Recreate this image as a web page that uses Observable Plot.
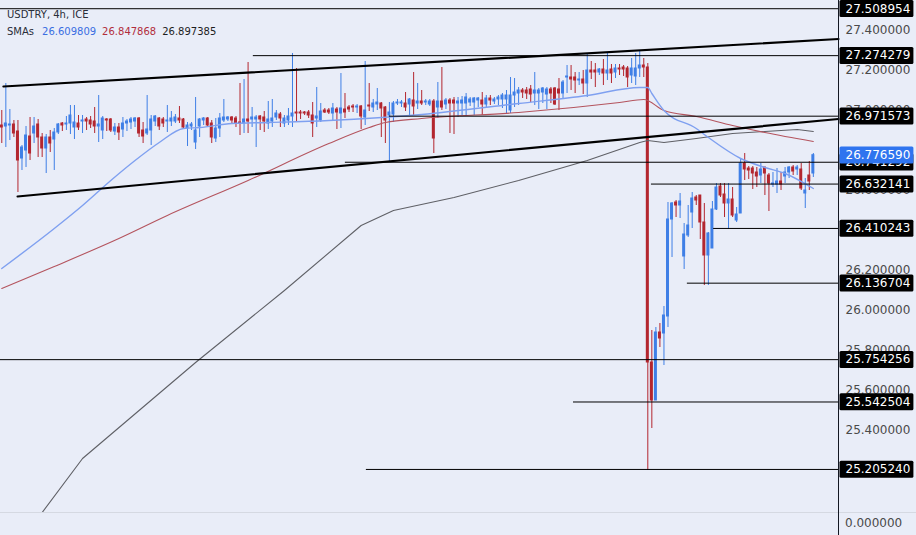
<!DOCTYPE html>
<html><head><meta charset="utf-8">
<script src="https://cdn.jsdelivr.net/npm/d3@7"></script>
<script src="https://cdn.jsdelivr.net/npm/@observablehq/plot@0.6"></script>
<style>
html,body{margin:0;padding:0;background:#e9edf8;}
#wrap{position:relative;width:916px;height:535px;background:#e9edf8;overflow:hidden;font-family:"DejaVu Sans",sans-serif;}
#chart svg{display:block;}
#hdr{position:absolute;left:7px;top:6px;font-size:10px;color:#2a2e39;line-height:17px;white-space:nowrap;}
#hdr span{margin-left:6px;}
#hdr span.first{margin-left:8px;}
#zero{position:absolute;left:845px;top:516px;font-size:12px;color:#4a4a4a;}
#sep{position:absolute;left:0;top:512px;width:916px;height:1px;background:#d5d9e2;}
#axl{position:absolute;left:838px;top:512px;width:1px;height:23px;background:#131722;}
</style></head><body>
<div id="wrap">
<div id="chart"></div>
<div id="sep"></div><div id="axl"></div>
<div id="zero">0.000000</div>
<div id="hdr"><div>USDTRY, 4h, ICE</div><div>SMAs<span class="first" style="color:#3a6ee2">26.609809</span><span style="color:#b22d3c">26.847868</span><span style="color:#1e1e1e">26.897385</span></div></div>
</div>
<script>
// ---- candle data (index 0..201) ----
const opens = [26.925,26.92,26.925,26.93,26.895,26.76,26.80,26.87,26.885,26.93,26.865,26.81,26.865,26.855,26.89,26.935,26.93,26.935,26.915,26.935,26.945,26.955,26.95,26.945,26.92,26.90,26.955,26.955,26.895,26.915,26.905,26.935,26.94,26.945,26.96,26.90,26.885,26.90,26.945,26.96,26.955,26.945,26.945,26.945,26.96,26.955,26.91,26.92,26.84,26.92,26.95,26.96,26.935,26.86,26.91,26.95,26.955,26.965,26.96,26.94,26.935,26.955,26.955,26.955,26.97,26.965,26.935,26.945,26.965,26.98,26.935,26.95,26.97,26.99,26.99,26.99,26.99,26.975,26.96,
26.95,27.00,27.00,26.985,27.005,26.985,27.005,27.015,27.02,27.015,27.02,26.965,27.025,27.015,27.03,27.035,27.015,26.975,26.98,27.035,27.035,27.035,27.03,27.05,27.035,27.045,27.04,27.03,27.045,27.015,27.045,27.03,27.05,27.05,27.035,27.035,27.035,27.04,27.04,27.05,27.05,27.03,27.06,27.045,27.055,27.055,27.055,27.00,27.075,27.085,27.10,27.10,27.105,27.085,27.085,27.09,27.08,27.105,27.11,27.105,27.085,27.165,27.165,27.165,27.15,27.155,27.135,27.20,27.20,27.19,27.205,27.185,27.205,27.19,27.21,27.215,27.21,27.175,27.17,27.21,27.225,
27.215,
25.74,25.55,25.89,25.885,25.97,26.455,26.54,26.525,26.27,26.375,26.49,26.565,26.575,26.44,26.275,26.31,26.505,26.62,26.58,26.535,26.555,26.45,26.485,26.735,26.71,26.71,26.69,26.675,26.715,26.675,26.63,26.63,26.645,26.67,26.69,26.715,26.705,26.705,26.585,26.675,26.685];
const highs = [27.00,27.135,27.005,26.95,26.95,26.825,26.92,26.965,26.965,26.955,26.885,26.88,26.90,26.91,26.935,26.94,26.97,27.025,27.025,26.975,26.975,26.965,26.97,27.015,27.075,26.97,26.96,26.96,26.935,26.935,26.965,26.955,26.965,26.965,26.965,26.94,27.075,26.975,26.975,26.965,26.965,27.025,26.995,26.98,27.02,26.96,26.94,26.94,27.065,26.96,26.965,26.965,26.95,26.96,26.985,27.055,26.97,26.97,26.97,27.135,27.155,27.24,27.015,26.975,26.975,26.995,27.045,27.055,27.00,26.99,26.975,27.01,27.285,27.21,27.00,26.995,27.00,27.04,27.115,
27.035,27.01,27.01,27.035,27.015,27.185,27.085,27.025,27.03,27.03,27.025,27.245,27.135,27.055,27.11,27.04,27.02,27.04,27.045,27.055,27.05,27.09,27.06,27.19,27.135,27.10,27.055,27.055,27.055,27.14,27.215,27.06,27.06,27.065,27.065,27.07,27.085,27.065,27.065,27.065,27.09,27.075,27.075,27.065,27.075,27.085,27.10,27.165,27.16,27.115,27.11,27.115,27.125,27.19,27.11,27.115,27.115,27.115,27.115,27.16,27.15,27.225,27.225,27.19,27.19,27.20,27.285,27.245,27.235,27.21,27.255,27.285,27.23,27.23,27.23,27.225,27.22,27.26,27.285,27.30,27.26,
27.235,
25.90,25.915,25.935,26.02,26.54,26.54,26.55,26.585,26.435,26.525,26.59,26.575,26.575,26.535,26.39,26.545,26.635,26.635,26.635,26.635,26.615,26.515,26.76,26.785,26.72,26.72,26.715,26.735,26.715,26.685,26.69,26.71,26.69,26.715,26.72,26.725,26.725,26.735,26.66,26.745,26.785];
const lows = [26.835,26.815,26.85,26.865,26.59,26.70,26.715,26.75,26.835,26.765,26.765,26.685,26.79,26.70,26.88,26.895,26.90,26.88,26.855,26.90,26.885,26.90,26.91,26.885,26.84,26.855,26.895,26.89,26.875,26.85,26.865,26.895,26.905,26.915,26.865,26.835,26.875,26.825,26.92,26.90,26.915,26.89,26.92,26.935,26.935,26.91,26.82,26.90,26.805,26.865,26.925,26.92,26.835,26.84,26.865,26.94,26.945,26.935,26.915,26.875,26.885,26.885,26.915,26.815,26.90,26.89,26.905,26.915,26.95,26.915,26.915,26.925,26.915,26.94,26.955,26.975,26.96,26.865,26.915,
26.94,26.985,26.98,26.95,26.905,26.91,26.96,26.99,26.99,26.985,26.905,26.925,26.995,26.99,27.00,26.865,26.835,26.74,26.94,27.025,27.015,26.995,26.975,26.975,27.005,27.025,27.025,27.02,26.785,26.96,27.00,27.005,26.885,26.88,26.965,26.975,26.975,27.02,26.975,27.015,26.975,27.015,27.025,27.03,27.025,27.01,26.98,26.985,27.015,27.025,27.06,27.055,27.04,27.025,27.005,27.035,27.005,27.035,27.025,27.00,27.06,27.085,27.10,27.085,27.125,27.08,27.065,27.155,27.115,27.175,27.125,27.15,27.135,27.16,27.175,27.17,27.115,27.135,27.125,27.165,27.165,
25.20,
25.41,25.55,25.815,25.725,25.915,26.265,26.465,26.46,26.205,26.365,26.41,26.525,26.355,26.125,26.125,26.31,26.50,26.565,26.465,26.405,26.465,26.44,26.485,26.65,26.655,26.605,26.615,26.635,26.575,26.495,26.615,26.585,26.60,26.635,26.66,26.675,26.675,26.60,26.51,26.60,26.665];
const closes = [26.915,26.935,26.93,26.885,26.75,26.815,26.875,26.785,26.92,26.865,26.81,26.865,26.835,26.89,26.93,26.925,26.935,26.975,26.94,26.915,26.95,26.945,26.93,26.92,26.93,26.96,26.95,26.90,26.915,26.89,26.935,26.945,26.955,26.96,26.885,26.87,26.905,26.955,26.97,26.92,26.935,26.95,26.96,26.965,26.95,26.915,26.925,26.93,26.90,26.955,26.96,26.925,26.865,26.91,26.96,26.965,26.965,26.95,26.935,26.935,26.955,26.945,26.965,26.965,26.955,26.945,26.955,26.96,26.985,26.96,26.96,26.97,26.985,26.985,26.985,26.985,26.975,26.935,26.97,
26.995,26.99,26.99,27.01,26.99,27.01,26.99,27.005,27.015,27.02,26.97,27.00,27.02,27.035,27.04,27.01,26.95,26.99,27.035,27.04,27.04,27.015,27.055,27.02,27.045,27.035,27.045,27.045,26.86,27.045,27.015,27.05,27.035,27.035,27.045,27.05,27.065,27.055,27.06,27.06,27.03,27.06,27.05,27.055,27.065,27.075,27.075,27.075,27.09,27.10,27.09,27.085,27.08,27.10,27.10,27.11,27.105,27.085,27.03,27.085,27.14,27.17,27.155,27.15,27.155,27.135,27.20,27.19,27.19,27.205,27.185,27.20,27.185,27.21,27.205,27.205,27.165,27.21,27.21,27.225,27.215,
25.74,
25.55,25.89,25.86,25.975,26.455,26.535,26.525,26.545,26.38,26.425,26.56,26.55,26.44,26.275,26.385,26.505,26.615,26.575,26.535,26.555,26.475,26.48,26.735,26.705,26.70,26.685,26.67,26.705,26.685,26.635,26.635,26.645,26.63,26.69,26.715,26.695,26.715,26.61,26.60,26.645,26.7766];

// ---- moving averages (read at sampled candle indices) ----
const smaBlueIdx = [0,13,20,27,33,39,45,49,57,66,81,104,128,145,158,160,161,164,172,175,183,189,194,201];
const smaBlueVal = [26.21,26.41,26.525,26.65,26.75,26.84,26.91,26.915,26.935,26.94,26.95,26.98,27.035,27.075,27.115,27.115,27.085,27.00,26.91,26.865,26.76,26.715,26.685,26.61];
const smaRedIdx = [0,13,29,41,61,81,91,95,104,128,153,159,164,172,181,189,201];
const smaRedVal = [26.11,26.22,26.36,26.475,26.65,26.835,26.915,26.94,26.96,26.99,27.04,27.055,27.00,26.97,26.925,26.89,26.845];
const smaGrayIdx = [7,10,20,48,70,89,97,112,128,145,158,160,164,172,181,189,197,201];
const smaGrayVal = [24.90,24.99,25.26,25.74,26.10,26.425,26.50,26.565,26.65,26.75,26.84,26.85,26.84,26.86,26.885,26.895,26.905,26.895];

// ---- drawings ----
const xDomain = [-0.32, 207.23];
const yDomain = [24.99, 27.55];
const channelUpperIdx = [0.4, 207.23];
const channelUpperVal = [27.12, 27.3575];
const channelLowerIdx = [3.9, 207.23];
const channelLowerVal = [26.57, 26.9575];
const levelValues = [27.508954, 27.274279, 26.971573, 26.741292, 26.632141, 26.410243, 26.136704, 25.754256, 25.542504, 25.205240];
const levelStartIdx = [-0.32, 62.3, 96.0, 85.1, 160.9, 176.3, 169.8, -0.32, 141.6, 90.3];
const lastPrice = 26.776590;
const yTicks = [27.4, 27.2, 27.0, 26.6, 26.2, 26.0, 25.8, 25.6, 25.4];

const BLUE = "#3f7fe6", RED = "#b3262f";
const candles = opens.map((o, k) => ({i: k, o, h: highs[k], l: lows[k], c: closes[k]}));
const up = candles.filter(d => d.c >= d.o), down = candles.filter(d => d.c < d.o);
const toPts = (I, V) => I.map((i, k) => ({i, v: V[k]}));
const levels = levelValues.map((v, k) => ({v, x1: levelStartIdx[k], x2: xDomain[1], label: v.toFixed(6)}));
const fmt = d => d.toFixed(6);

const bodyOpts = (fill) => ({x1: d => d.i - 0.37, x2: d => d.i + 0.37, y1: "o", y2: "c", fill, insetTop: -0.5, insetBottom: -0.5});

const chart = Plot.plot({
  width: 916, height: 535,
  marginTop: 0, marginRight: 78, marginBottom: 23, marginLeft: 0,
  x: {domain: xDomain, axis: null},
  y: {domain: yDomain, axis: null},
  style: {background: "transparent", fontFamily: "DejaVu Sans", fontSize: "12px", overflow: "visible"},
  marks: [
    Plot.axisY({ticks: yTicks, anchor: "right", tickSize: 0, tickPadding: 7, tickFormat: fmt, color: "#4a4a4a", fontSize: 12}),
    Plot.ruleX(up, {x: "i", y1: "l", y2: "h", stroke: BLUE, strokeWidth: 1}),
    Plot.ruleX(down, {x: "i", y1: "l", y2: "h", stroke: RED, strokeWidth: 1}),
    Plot.rect(up, bodyOpts(BLUE)),
    Plot.rect(down, bodyOpts(RED)),
    Plot.line(toPts(smaGrayIdx, smaGrayVal), {x: "i", y: "v", stroke: "#5f6066", strokeWidth: 1.1, clip: true}),
    Plot.line(toPts(smaRedIdx, smaRedVal), {x: "i", y: "v", stroke: "#b4545e", strokeWidth: 1.1, curve: "monotone-x", clip: true}),
    Plot.line(toPts(smaBlueIdx, smaBlueVal), {x: "i", y: "v", stroke: "#7fa0f0", strokeWidth: 1.4, curve: "monotone-x", clip: true}),
    Plot.ruleY(levels, {y: "v", x1: "x1", x2: "x2", stroke: "#000", strokeWidth: 1}),
    Plot.line(toPts(channelUpperIdx, channelUpperVal), {x: "i", y: "v", stroke: "#000", strokeWidth: 2.2}),
    Plot.line(toPts(channelLowerIdx, channelLowerVal), {x: "i", y: "v", stroke: "#000", strokeWidth: 2.2}),
    Plot.ruleX([xDomain[1]], {stroke: "#131722", strokeWidth: 1}),
    Plot.text(levels, {y: "v", text: "label", frameAnchor: "right", textAnchor: "start", dx: 7, fill: "white", fontSize: 12}),
    Plot.text([lastPrice], {y: d => d, text: fmt, frameAnchor: "right", textAnchor: "start", dx: 7, fill: "white", fontSize: 12})
  ]
});
document.getElementById("chart").appendChild(chart);

// label boxes behind the level / price texts
const boxColor = new Map(levels.map(d => [d.label, "#000000"]));
boxColor.set(fmt(lastPrice), "#2f74ef");
d3.select(chart).selectAll("text").each(function() {
  const t = this.textContent;
  if (!boxColor.has(t)) return;
  const b = this.getBBox();
  const r = document.createElementNS("http://www.w3.org/2000/svg", "rect");
  const tr = this.getAttribute("transform");
  if (tr) r.setAttribute("transform", tr);
  const cy = b.y + b.height / 2;
  r.setAttribute("x", b.x - 6);
  r.setAttribute("y", cy - 8.5);
  r.setAttribute("width", b.width + 9);
  r.setAttribute("height", 17);
  r.setAttribute("rx", 1.5);
  r.setAttribute("fill", boxColor.get(t));
  this.parentNode.insertBefore(r, this);
});
</script>
</body></html>
